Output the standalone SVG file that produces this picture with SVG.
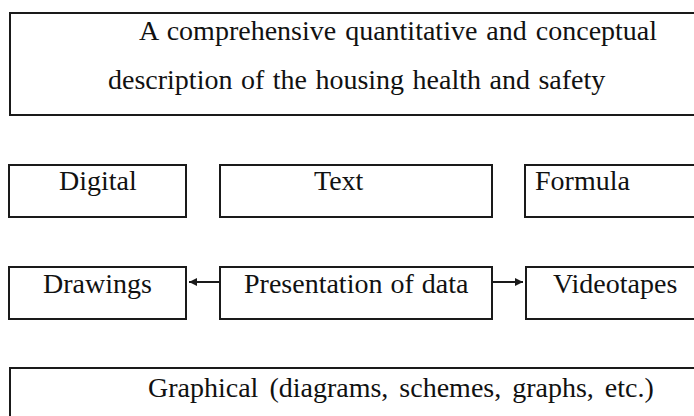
<svg xmlns="http://www.w3.org/2000/svg" width="694" height="416" viewBox="0 0 694 416">
  <style>
    .box { fill: #ffffff; stroke: #1a1a1a; stroke-width: 2; }
    .lbl { font-family: "Liberation Serif", "Times New Roman", serif; font-size: 28px; fill: #111111; }
    .link { stroke: #1a1a1a; stroke-width: 2; fill: none; }
  </style>
  <defs>
    <marker id="arrow" viewBox="0 0 8 8" refX="8" refY="4" markerWidth="4" markerHeight="4" orient="auto" markerUnits="strokeWidth">
      <path d="M0,0 L8,4 L0,8 Z" fill="#1a1a1a"/>
    </marker>
  </defs>
  <rect width="694" height="416" fill="#ffffff"/>

  <g id="summary">
    <rect class="box" x="10" y="13" width="700" height="102"/>
    <text class="lbl" x="139" y="40" word-spacing="2">A comprehensive quantitative and conceptual</text>
    <text class="lbl" x="108" y="89" word-spacing="1.5">description of the housing health and safety</text>
  </g>

  <g id="digital">
    <rect class="box" x="9" y="165" width="177" height="52"/>
    <text class="lbl" x="59" y="190">Digital</text>
  </g>
  <g id="text">
    <rect class="box" x="220" y="165" width="272" height="52"/>
    <text class="lbl" x="314" y="190">Text</text>
  </g>
  <g id="formula">
    <rect class="box" x="525" y="165" width="190" height="52"/>
    <text class="lbl" x="535" y="190">Formula</text>
  </g>

  <g id="drawings">
    <rect class="box" x="9" y="267" width="177" height="52"/>
    <text class="lbl" x="43" y="293">Drawings</text>
  </g>
  <g id="presentation">
    <rect class="box" x="220" y="267" width="272" height="52"/>
    <text class="lbl" x="244" y="293" word-spacing="1">Presentation of data</text>
  </g>
  <g id="videotapes">
    <rect class="box" x="526" y="267" width="190" height="52"/>
    <text class="lbl" x="553" y="293">Videotapes</text>
  </g>

  <g id="graphical">
    <rect class="box" x="10" y="368" width="700" height="60"/>
    <text class="lbl" x="148" y="397" word-spacing="4">Graphical (diagrams, schemes, graphs, etc.)</text>
  </g>

  <g id="connectors">
    <line class="link" x1="219" y1="282" x2="189" y2="282" marker-end="url(#arrow)"/>
    <line class="link" x1="493" y1="282" x2="523" y2="282" marker-end="url(#arrow)"/>
  </g>
</svg>
